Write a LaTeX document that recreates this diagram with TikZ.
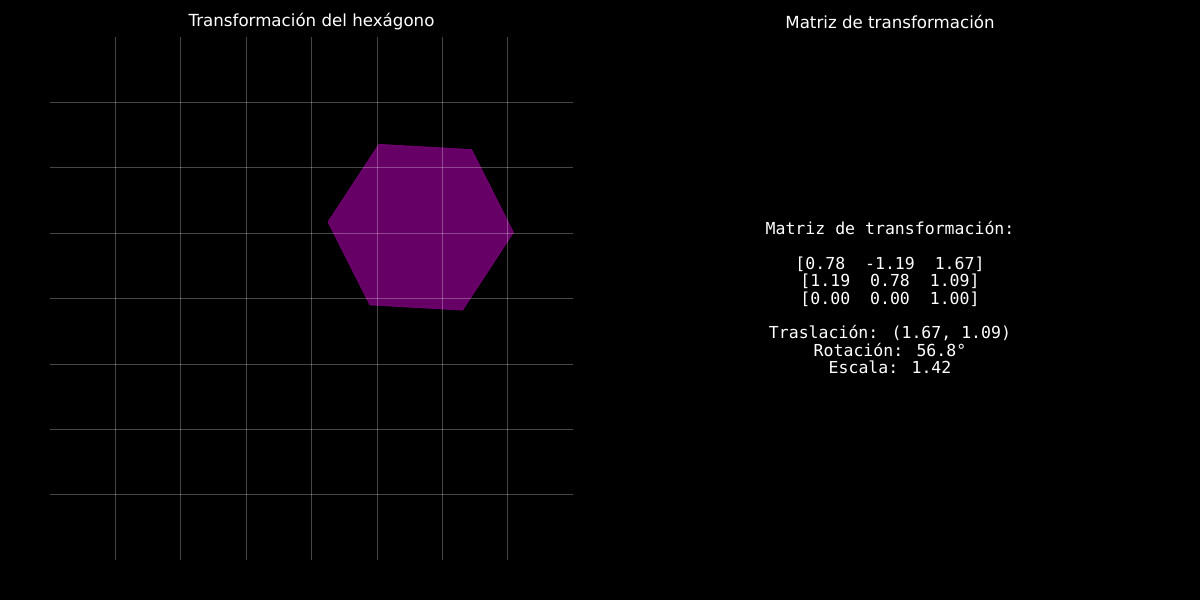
\documentclass[tikz,border=0pt]{standalone}
\usepackage{fontspec}
\setmainfont{DejaVu Sans}
\newfontfamily\matfont{DejaVu Sans Mono}
\definecolor{hexpurple}{RGB}{128,0,128}
\definecolor{titlewhite}{RGB}{255,255,255}

\begin{document}
\begin{tikzpicture}[x=0.72pt,y=-0.72pt,
  gridline/.style={white,opacity=0.28,line width=0.5pt},
  paneltitle/.style={titlewhite,font=\fontsize{12}{14}\selectfont}]
  % Background
  \fill[black] (0,0) rectangle (1200,600);
  \useasboundingbox (0,0) rectangle (1200,600);
  % Titles
  \node[paneltitle] (lefttitle) at (311.5,22) {Transformación del hexágono};
  \node[paneltitle] (righttitle) at (890,22) {Matriz de transformación};
  % Hexagon panel (data units)
  \begin{scope}[shift={(224.28pt,-214.92pt)},x=47.09pt,y=47.09pt]
    \begin{scope}[shift={(1.67,1.09)}]
      \filldraw[hexpurple,fill opacity=0.8,draw opacity=0.85,line width=0.5pt]
        (56.8:1.42) -- (116.8:1.42) -- (176.8:1.42) -- (236.8:1.42)
        -- (296.8:1.42) -- (356.8:1.42) -- cycle;
    \end{scope}
    \foreach \k in {-3,...,3} {
      \draw[gridline] (\k,-4) -- (\k,4);
      \draw[gridline] (-4,\k) -- (4,\k);
    }
  \end{scope}
  % Matrix text
  \node[white,align=center,font=\matfont\fontsize{11.9}{12.5}\selectfont] (matrixtext) at (890,297.5)
    {Matriz de transformación:\\[12.6pt]
     {[}0.78\ \ -1.19\ \ 1.67{]}\\
     {[}1.19\ \ 0.78\ \ 1.09{]}\\
     {[}0.00\ \ 0.00\ \ 1.00{]}\\[12.6pt]
     Traslación: (1.67, 1.09)\\
     Rotación: 56.8°\\
     Escala: 1.42};
\end{tikzpicture}
\end{document}
